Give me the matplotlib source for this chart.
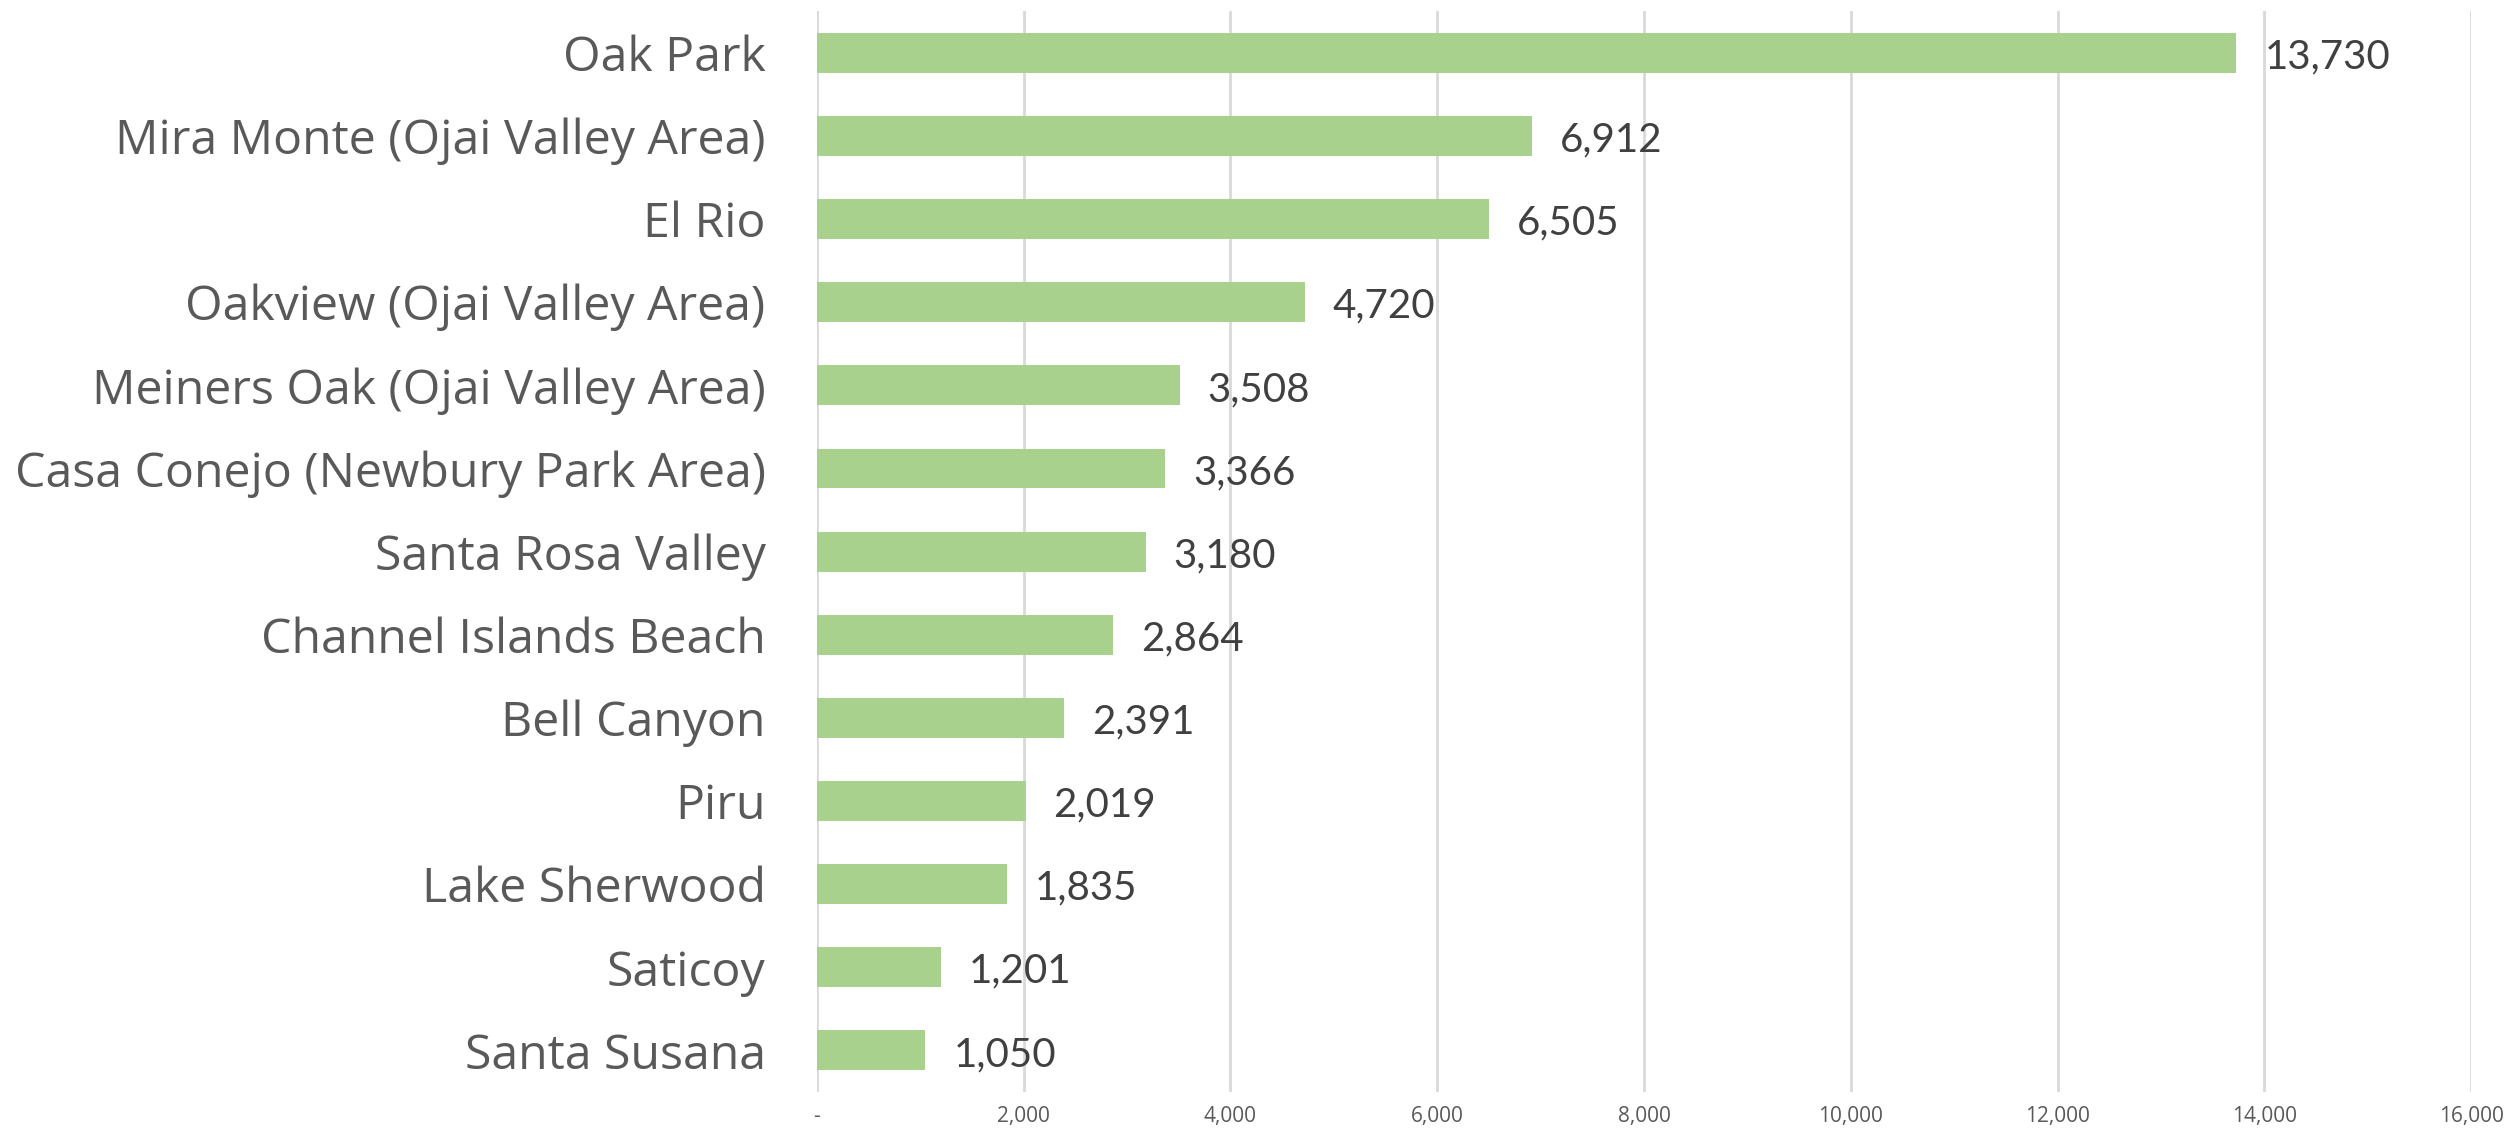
import matplotlib
matplotlib.use("Agg")
import matplotlib.pyplot as plt
from matplotlib import font_manager
from matplotlib.ticker import FuncFormatter

# Data
places = [
    "Oak Park",
    "Mira Monte (Ojai Valley Area)",
    "El Rio",
    "Oakview (Ojai Valley Area)",
    "Meiners Oak (Ojai Valley Area)",
    "Casa Conejo (Newbury Park Area)",
    "Santa Rosa Valley",
    "Channel Islands Beach",
    "Bell Canyon",
    "Piru",
    "Lake Sherwood",
    "Saticoy",
    "Santa Susana",
]
values = [13730, 6912, 6505, 4720, 3508, 3366, 3180, 2864, 2391, 2019, 1835, 1201, 1050]
x_ticks = [0, 2000, 4000, 6000, 8000, 10000, 12000, 14000, 16000]


def pick_font(names):
    for n in names:
        try:
            font_manager.findfont(font_manager.FontProperties(family=n), fallback_to_default=False)
            return n
        except ValueError:
            pass
    return "DejaVu Sans"


label_font = pick_font(["Liberation Sans Narrow", "Open Sans", "Lato"])
num_font = pick_font(["Lato", "Open Sans"])

fig = plt.figure(figsize=(25.19, 11.29), dpi=100)
ax = fig.add_axes([0.3243, 0.0328, 0.9810 - 0.3243, 0.990 - 0.0328])

ypos = list(range(len(places)))
ax.barh(ypos, values, height=0.48, color="#A9D18E", zorder=3)

ax.set_ylim(len(places) - 0.5, -0.5)
ax.set_xlim(0, 16000)
ax.set_xticks(x_ticks)
ax.xaxis.set_major_formatter(FuncFormatter(lambda v, p: "-" if v == 0 else f"{v:,.0f}"))
ax.grid(axis="x", color="#D9D9D9", linewidth=2, zorder=0)
ax.set_axisbelow(True)
for s in ax.spines.values():
    s.set_visible(False)

# size the category labels so the longest one is ~752 px wide, like the original
ax.set_yticks(ypos)
ax.set_yticklabels(places, fontsize=50, color="#595959", family=[label_font, "DejaVu Sans"])
ax.tick_params(axis="y", length=0, pad=37)
fig.canvas.draw()
widest = max(t.get_window_extent().width for t in ax.get_yticklabels())
size = min(50 * 752 / widest, 58)
for t in ax.get_yticklabels():
    t.set_fontsize(size)

ax.tick_params(axis="x", length=0, pad=10, labelsize=15, labelcolor="#595959")
for lbl in ax.get_xticklabels():
    lbl.set_family([label_font, "DejaVu Sans"])

for y, v in zip(ypos, values):
    ax.text(v + 270, y + 0.05, f"{v:,}", va="center", ha="left", fontsize=29,
            color="#404040", family=[num_font, "DejaVu Sans"])

fig.savefig("out.png", dpi=100)
